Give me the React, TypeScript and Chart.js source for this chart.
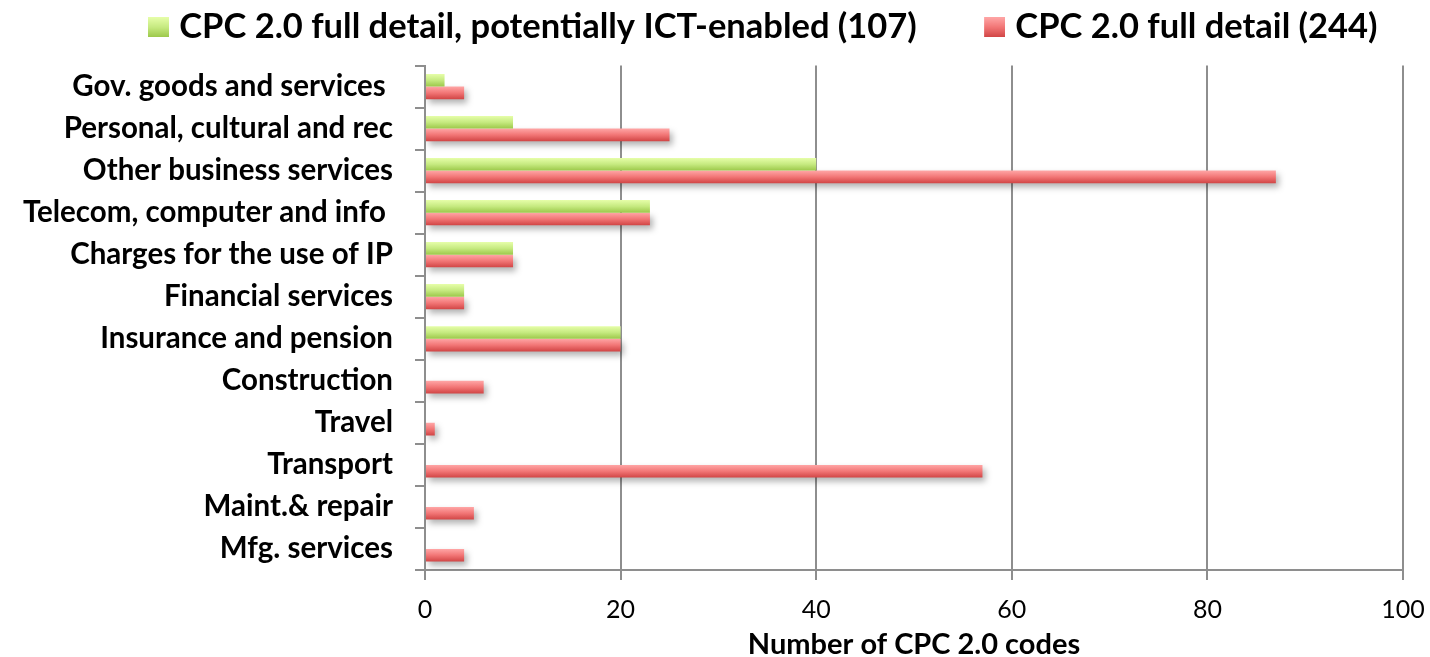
import React, { useEffect, useRef } from 'react';
import { Chart, registerables } from 'chart.js';

Chart.register(...registerables);

const categories = [
  'Gov. goods and services ',
  'Personal, cultural and rec',
  'Other business services',
  'Telecom, computer and info ',
  'Charges for the use of IP',
  'Financial services',
  'Insurance and pension',
  'Construction',
  'Travel',
  'Transport',
  'Maint.& repair',
  'Mfg. services',
];
const ictEnabled = [2, 9, 40, 23, 9, 4, 20, 0, 0, 0, 0, 0];
const fullDetail = [4, 25, 87, 23, 9, 4, 20, 6, 1, 57, 5, 4];
const seriesLabels = [
  'CPC 2.0 full detail, potentially ICT-enabled (107)      ',
  'CPC 2.0 full detail (244)',
];
const xAxisTitle = 'Number of CPC 2.0 codes';
const xMin = 0;
const xMax = 100;
const xStep = 20;

const GREEN = ['#e6fea9', '#c6ea80', '#9cc84a'];
const RED = ['#ffa6a6', '#f27676', '#d14545'];
const GRID = '#8e8e8e';
const FONT = 'Lato';
const LEGEND_FONT = 34.5;
const LEGEND_BOX_W = 21;
const LEGEND_BOX_H = 20;
const LEGEND_LEFT = 131;

function makeGrad(ctx: CanvasRenderingContext2D, top: number, bottom: number, stops: string[]) {
  const g = ctx.createLinearGradient(0, top, 0, bottom);
  g.addColorStop(0, stops[0]);
  g.addColorStop(0.5, stops[1]);
  g.addColorStop(1, stops[2]);
  return g;
}

function makeLegendSwatch(stops: string[]) {
  const c = document.createElement('canvas');
  const iw = LEGEND_BOX_W + 14;
  c.width = iw;
  c.height = LEGEND_BOX_H;
  const cx = c.getContext('2d') as CanvasRenderingContext2D;
  cx.fillStyle = makeGrad(cx, 0, LEGEND_BOX_H, stops);
  cx.fillRect(iw - LEGEND_BOX_W, 0, LEGEND_BOX_W, LEGEND_BOX_H);
  return c;
}

export default function App() {
  const ref = useRef<HTMLCanvasElement | null>(null);

  useEffect(() => {
    if (!ref.current) return;
    const swatches = [makeLegendSwatch(GREEN), makeLegendSwatch(RED)];

    const stylePlugin = {
      id: 'excelStyle',
      beforeDraw(chart: any) {
        const lg = chart.legend;
        if (lg) {
          lg.left = LEGEND_LEFT;
          if (lg.legendItems) {
            lg.legendItems.forEach((it: any, i: number) => {
              it.pointStyle = swatches[i];
              it.lineWidth = 0;
            });
          }
        }
      },
      beforeDatasetsDraw(chart: any) {
        const ctx = chart.ctx;
        chart.data.datasets.forEach((_ds: any, i: number) => {
          const meta = chart.getDatasetMeta(i);
          const stops = i === 0 ? GREEN : RED;
          meta.data.forEach((el: any) => {
            const h = el.height;
            el.options = { ...el.options, backgroundColor: makeGrad(ctx, el.y - h / 2, el.y + h / 2, stops) };
          });
        });
      },
      beforeDatasetDraw(chart: any, args: any) {
        if (args.index !== 1) return;
        const ctx = chart.ctx;
        ctx.save();
        ctx.shadowColor = 'rgba(0,0,0,0.30)';
        ctx.shadowBlur = 6;
        ctx.shadowOffsetX = 3;
        ctx.shadowOffsetY = 4;
      },
      afterDatasetDraw(chart: any, args: any) {
        if (args.index !== 1) return;
        chart.ctx.restore();
      },
    };

    const chart = new Chart(ref.current, {
      type: 'bar',
      data: {
        labels: categories,
        datasets: [
          {
            label: seriesLabels[0],
            data: ictEnabled,
            backgroundColor: GREEN[1],
            borderWidth: 0,
            categoryPercentage: 0.6,
            barPercentage: 1.0,
          },
          {
            label: seriesLabels[1],
            data: fullDetail,
            backgroundColor: RED[1],
            borderWidth: 0,
            categoryPercentage: 0.6,
            barPercentage: 1.0,
          },
        ],
      },
      options: {
        indexAxis: 'y',
        responsive: false,
        animation: false,
        layout: { padding: { left: 0, right: 27, top: 0, bottom: 0 } },
        plugins: {
          legend: {
            position: 'top',
            align: 'start',
            labels: {
              font: { family: FONT, size: LEGEND_FONT, weight: 'bold' },
              color: '#000',
              usePointStyle: true,
              boxWidth: LEGEND_BOX_W,
              boxHeight: LEGEND_BOX_H,
              padding: 10,
            },
          },
          title: {
            display: true,
            text: '',
            weight: 500,
            padding: { top: 0, bottom: 10 },
            font: { size: 1, lineHeight: 1 },
          },
          tooltip: { enabled: false },
        },
        scales: {
          x: {
            min: xMin,
            max: xMax,
            ticks: {
              stepSize: xStep,
              color: '#000',
              font: { family: FONT, size: 25 },
              padding: 15,
            },
            grid: { color: GRID, lineWidth: 2, tickLength: 10 },
            border: { color: GRID, width: 2 },
            title: {
              display: true,
              text: xAxisTitle,
              color: '#000',
              font: { family: FONT, size: 29, weight: 'bold', lineHeight: 1 },
              padding: { top: -9.5, bottom: -2.5 },
            },
            afterFit: (s: any) => {
              s.paddingRight = 20;
              s.paddingLeft = 10;
            },
          },
          y: {
            ticks: {
              color: '#000',
              font: { family: FONT, size: 29.5, weight: 'bold' },
              padding: 22,
              autoSkip: false,
            },
            grid: {
              offset: true,
              drawOnChartArea: false,
              drawTicks: true,
              tickLength: 10,
              color: GRID,
              lineWidth: 2,
            },
            border: { color: GRID, width: 2 },
            afterFit: (s: any) => {
              s.width = 425;
            },
          },
        },
      },
      plugins: [stylePlugin],
    } as any);
    return () => chart.destroy();
  }, []);

  return (
    <div style={{ position: 'fixed', left: 0, top: 0, width: 1430, height: 657, background: '#fff' }}>
      <canvas ref={ref} width={1430} height={657} style={{ display: 'block' }} />
    </div>
  );
}
